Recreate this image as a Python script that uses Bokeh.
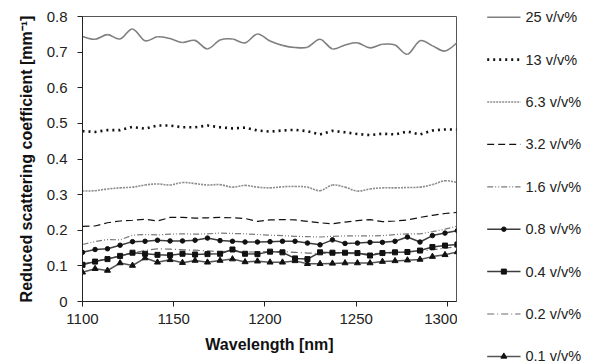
from bokeh.plotting import figure
from bokeh.layouts import row, column
from bokeh.models import Range1d, FixedTicker, NumeralTickFormatter
from bokeh.core.properties import value
from bokeh.embed import file_html
from bokeh.resources import INLINE

# Wavelengths of the measured spectra [nm]
wavelength = [1100.0, 1106.9, 1113.7, 1120.6, 1127.4, 1134.3, 1141.1, 1148.0, 1154.8, 1161.7,
              1168.5, 1175.4, 1182.2, 1189.1, 1195.9, 1202.8, 1209.6, 1216.5, 1223.3, 1230.2,
              1237.0, 1243.9, 1250.7, 1257.6, 1264.4, 1271.3, 1278.1, 1285.0, 1291.8, 1298.7,
              1305.5]

# Reduced scattering coefficient [1/mm] per concentration
mus_25 = [0.744, 0.736, 0.749, 0.737, 0.765, 0.732, 0.743, 0.738, 0.727, 0.733,
          0.709, 0.734, 0.737, 0.726, 0.751, 0.731, 0.719, 0.713, 0.714, 0.736,
          0.709, 0.720, 0.726, 0.712, 0.722, 0.720, 0.694, 0.732, 0.718, 0.703, 0.727]
mus_13 = [0.478, 0.476, 0.481, 0.481, 0.490, 0.485, 0.494, 0.494, 0.489, 0.489,
          0.494, 0.489, 0.486, 0.488, 0.480, 0.477, 0.480, 0.482, 0.478, 0.469,
          0.479, 0.475, 0.470, 0.467, 0.471, 0.469, 0.477, 0.469, 0.480, 0.483, 0.483]
mus_6_3 = [0.310, 0.311, 0.316, 0.319, 0.321, 0.327, 0.330, 0.327, 0.334, 0.331,
           0.327, 0.328, 0.321, 0.326, 0.321, 0.319, 0.322, 0.323, 0.321, 0.311,
           0.327, 0.321, 0.310, 0.316, 0.319, 0.319, 0.320, 0.321, 0.328, 0.339, 0.334]
mus_3_2 = [0.211, 0.212, 0.221, 0.226, 0.228, 0.231, 0.226, 0.236, 0.236, 0.234,
           0.235, 0.236, 0.235, 0.233, 0.225, 0.229, 0.230, 0.229, 0.225, 0.221,
           0.218, 0.223, 0.227, 0.230, 0.224, 0.226, 0.229, 0.236, 0.242, 0.247, 0.250]
mus_1_6 = [0.160, 0.168, 0.174, 0.173, 0.186, 0.188, 0.187, 0.189, 0.190, 0.189,
           0.190, 0.192, 0.191, 0.190, 0.188, 0.186, 0.185, 0.183, 0.182, 0.181,
           0.183, 0.184, 0.184, 0.184, 0.185, 0.188, 0.190, 0.190, 0.196, 0.203, 0.212]
mus_0_8 = [0.138, 0.146, 0.148, 0.158, 0.168, 0.169, 0.172, 0.170, 0.170, 0.172,
           0.178, 0.171, 0.169, 0.167, 0.167, 0.168, 0.169, 0.169, 0.164, 0.159,
           0.173, 0.163, 0.164, 0.166, 0.166, 0.169, 0.181, 0.167, 0.185, 0.192, 0.199]
mus_0_4 = [0.103, 0.112, 0.119, 0.128, 0.137, 0.134, 0.131, 0.130, 0.134, 0.132,
           0.133, 0.134, 0.146, 0.134, 0.133, 0.140, 0.138, 0.121, 0.119, 0.138,
           0.137, 0.137, 0.136, 0.129, 0.136, 0.138, 0.139, 0.143, 0.153, 0.157, 0.160]
mus_0_2 = [0.105, 0.113, 0.120, 0.128, 0.136, 0.143, 0.148, 0.147, 0.145, 0.144,
           0.142, 0.140, 0.141, 0.139, 0.139, 0.140, 0.140, 0.138, 0.136, 0.135,
           0.136, 0.135, 0.134, 0.134, 0.135, 0.137, 0.139, 0.141, 0.145, 0.150, 0.154]
mus_0_1 = [0.082, 0.092, 0.087, 0.108, 0.101, 0.122, 0.110, 0.117, 0.109, 0.115,
           0.110, 0.115, 0.119, 0.111, 0.113, 0.110, 0.110, 0.114, 0.106, 0.106,
           0.107, 0.108, 0.108, 0.108, 0.112, 0.114, 0.116, 0.118, 0.126, 0.131, 0.139]

labels = ["25 v/v%", "13 v/v%", "6.3 v/v%", "3.2 v/v%", "1.6 v/v%",
          "0.8 v/v%", "0.4 v/v%", "0.2 v/v%", "0.1 v/v%"]
x_ticks = [1100, 1150, 1200, 1250, 1300]
y_ticks = [0, 0.1, 0.2, 0.3, 0.4, 0.5, 0.6, 0.7, 0.8]

FONT = "Liberation Sans"

# line style and marker per series, in legend order
styles = [
    dict(line_color="#7f7f7f", line_width=1.6, line_dash="solid"),
    dict(line_color="#111111", line_width=2.6, line_dash="2 4"),
    dict(line_color="#8c8c8c", line_width=1.6, line_dash="2 1"),
    dict(line_color="#111111", line_width=1.2, line_dash="7 4"),
    dict(line_color="#7a7a7a", line_width=1.2, line_dash="6 2 1 2 1 2"),
    dict(line_color="#3c3c3c", line_width=1.5, line_dash="solid"),
    dict(line_color="#3c3c3c", line_width=1.5, line_dash="solid"),
    dict(line_color="#6a6a6a", line_width=1.2, line_dash="7 3 1 3"),
    dict(line_color="#555555", line_width=1.5, line_dash="solid"),
]
markers = [None, None, None, None, None,
           ("circle", 4.5), ("square", 5), None, ("triangle", 6)]
smoothed = [True, False, True, False, False, False, False, False, False]
series = [mus_25, mus_13, mus_6_3, mus_3_2, mus_1_6, mus_0_8, mus_0_4, mus_0_2, mus_0_1]


def smooth_segments(xs, ys):
    """Cubic Bezier pieces through every data point (Catmull-Rom tangents)."""
    n = len(xs)
    seg = dict(x0=[], y0=[], x1=[], y1=[], cx0=[], cy0=[], cx1=[], cy1=[])
    for i in range(n - 1):
        a = max(i - 1, 0)
        b = min(i + 2, n - 1)
        seg["x0"].append(xs[i]); seg["y0"].append(ys[i])
        seg["x1"].append(xs[i + 1]); seg["y1"].append(ys[i + 1])
        seg["cx0"].append(xs[i] + (xs[i + 1] - xs[a]) / 6)
        seg["cy0"].append(ys[i] + (ys[i + 1] - ys[a]) / 6)
        seg["cx1"].append(xs[i + 1] - (xs[b] - xs[i]) / 6)
        seg["cy1"].append(ys[i + 1] - (ys[b] - ys[i]) / 6)
    return seg


# ---- main chart ----
p = figure(width=457, height=363, output_backend="svg", toolbar_location=None,
           x_range=Range1d(1100, 1305), y_range=Range1d(0, 0.8),
           min_border_left=82, min_border_right=1, min_border_top=16, min_border_bottom=62,
           background_fill_color="white", border_fill_color="white")

p.grid.visible = False
p.outline_line_color = "#555555"
p.outline_line_width = 1

for ax in (p.xaxis[0], p.yaxis[0]):
    ax.axis_line_color = "#222222"
    ax.major_tick_line_color = "#222222"
    ax.major_tick_in = 0
    ax.major_tick_out = 5
    ax.minor_tick_line_color = None
    ax.major_label_text_font = FONT
    ax.major_label_text_font_size = "15px"
    ax.major_label_text_color = "#222222"
    ax.axis_label_text_font = FONT
    ax.axis_label_text_font_size = "16px"
    ax.axis_label_text_font_style = "bold"
    ax.axis_label_text_color = "#111111"

p.xaxis.ticker = FixedTicker(ticks=x_ticks)
p.yaxis.ticker = FixedTicker(ticks=y_ticks)
p.yaxis.formatter = NumeralTickFormatter(format="0.[0]")
p.xaxis.axis_label = "Wavelength [nm]"
p.yaxis.axis_label = "Reduced scattering coefficient [mm\u207b\u00b9]"
p.xaxis.major_label_standoff = 7
p.xaxis.axis_label_standoff = 9
p.yaxis.major_label_standoff = 10
p.yaxis.axis_label_standoff = 9

# plain-line series first, marker series on top
draw_order = [0, 1, 2, 3, 4, 7, 5, 6, 8]
for i in draw_order:
    if smoothed[i]:
        p.bezier(**smooth_segments(wavelength, series[i]), **styles[i])
    else:
        p.line(wavelength, series[i], **styles[i])
    if markers[i]:
        m, s = markers[i]
        p.scatter(wavelength, series[i], marker=m, size=s,
                  fill_color="#111111", line_color="#111111")

# ---- key panel to the right of the chart (pixel coordinates, y downwards) ----
k = figure(width=133, height=363, output_backend="svg", toolbar_location=None,
           x_range=Range1d(457, 590), y_range=Range1d(363, 0),
           x_axis_type=None, y_axis_type=None,
           min_border_left=0, min_border_right=0, min_border_top=0, min_border_bottom=0,
           background_fill_color="white", border_fill_color="white")
k.grid.visible = False
k.outline_line_color = None

key_x0, key_x1, key_text_x = 486.7, 520.0, 525.0
key_top, key_pitch = 16.7, 42.4
for i, lab in enumerate(labels):
    yc = key_top + i * key_pitch
    k.line([key_x0, key_x1], [yc, yc], **styles[i])
    if markers[i]:
        m, s = markers[i]
        k.scatter([(key_x0 + key_x1) / 2], [yc], marker=m, size=s,
                  fill_color="#111111", line_color="#111111")
    k.text([key_text_x], [yc], text=[lab], text_font=value(FONT), text_font_size="14.5px",
           text_color="#222222", text_baseline="middle", text_align="left")

layout = row(p, column(k, spacing=0), spacing=0)
open("out.html", "w").write(file_html(layout, INLINE))
